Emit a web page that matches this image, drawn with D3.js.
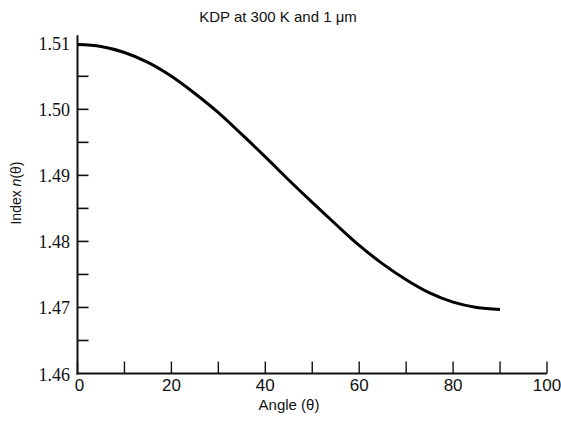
<!DOCTYPE html>
<meta charset="utf-8">
<style>
  body { margin: 0; background: #fff; }
  svg text { fill: #111; }
</style>
<body>
<svg width="561" height="425"></svg>

<script src="https://cdn.jsdelivr.net/npm/d3@7/dist/d3.min.js"></script>
<script>

// angle (deg) and refractive index
var angles  = [0, 5, 10, 15, 20, 25, 30, 35, 40, 45, 50, 55, 60, 65, 70, 75, 80, 85, 90];
var indices = [1.5098, 1.5095, 1.5086, 1.5071, 1.5050, 1.5024, 1.4995, 1.4962, 1.4928,
               1.4893, 1.4859, 1.4826, 1.4794, 1.4766, 1.4742, 1.4722, 1.4708, 1.4700, 1.4697];

var xTicks = [0, 10, 20, 30, 40, 50, 60, 70, 80, 90, 100];
var xLabels = [0, 20, 40, 60, 80, 100];
var yTicks = [1.46, 1.465, 1.47, 1.475, 1.48, 1.485, 1.49, 1.495, 1.50, 1.505, 1.51];
var yLabels = ["1.46", "1.47", "1.48", "1.49", "1.50", "1.51"];

var svg = d3.select("svg");

var x = d3.scaleLinear().domain([0, 100]).range([77.5, 547]);
var y = d3.scaleLinear().domain([1.46, 1.51]).range([373.5, 43.3]);

var data = angles.map(function(a, i) { return {angle: a, n: indices[i]}; });

// ticks (inside the frame)
svg.append("g")
    .selectAll("line.xt")
    .data(xTicks)
    .enter().append("line")
    .attr("x1", function(d) { return x(d); })
    .attr("x2", function(d) { return x(d); })
    .attr("y1", y(1.46))
    .attr("y2", y(1.46) - 12)
    .attr("stroke", "#111")
    .attr("stroke-width", 1.4);

svg.append("g")
    .selectAll("line.yt")
    .data(yTicks.slice(1, -1))
    .enter().append("line")
    .attr("x1", x(0))
    .attr("x2", x(0) + 11)
    .attr("y1", function(d) { return y(d); })
    .attr("y2", function(d) { return y(d); })
    .attr("stroke", "#111")
    .attr("stroke-width", 1.6);

// axis lines
svg.append("line")
    .attr("x1", x(0)).attr("x2", x(0))
    .attr("y1", y(1.51) - 8).attr("y2", y(1.46) + 1)
    .attr("stroke", "#111").attr("stroke-width", 2);

svg.append("line")
    .attr("x1", x(0) - 1).attr("x2", x(100))
    .attr("y1", y(1.46)).attr("y2", y(1.46))
    .attr("stroke", "#111").attr("stroke-width", 2);

// tick labels
svg.append("g")
    .selectAll("text")
    .data(xLabels)
    .enter().append("text")
    .attr("x", function(d) { return x(d) + (d === 0 ? 2 : 0); })
    .attr("y", 391)
    .attr("text-anchor", "middle")
    .style("font-family", "Liberation Sans, Arial, sans-serif")
    .style("font-size", "17px")
    .text(function(d) { return d; });

svg.append("g")
    .selectAll("text")
    .data(yLabels)
    .enter().append("text")
    .attr("x", 70)
    .attr("y", function(d) { return y(+d) + 7; })
    .attr("text-anchor", "end")
    .style("font-family", "Liberation Serif, Times New Roman, serif")
    .style("font-size", "18px")
    .text(function(d) { return d; });

// the curve
var line = d3.line().curve(d3.curveMonotoneX)
    .x(function(d) { return x(d.angle); })
    .y(function(d) { return y(d.n); });

svg.append("path")
    .datum(data)
    .attr("d", line)
    .attr("fill", "none")
    .attr("stroke", "#000")
    .attr("stroke-width", 3);

// titles
svg.append("text")
    .attr("x", 278)
    .attr("y", 22)
    .attr("text-anchor", "middle")
    .style("font-family", "Liberation Sans, Arial, sans-serif")
    .style("font-size", "15px")
    .text("KDP at 300 K and 1 \u03bcm");

svg.append("text")
    .attr("x", 289)
    .attr("y", 410)
    .attr("text-anchor", "middle")
    .style("font-family", "Liberation Sans, Arial, sans-serif")
    .style("font-size", "15px")
    .text("Angle (\u03b8)");

var ylab = svg.append("text")
    .attr("transform", "translate(21,193) rotate(-90)")
    .attr("text-anchor", "middle")
    .style("font-family", "Liberation Sans, Arial, sans-serif")
    .style("font-size", "14px");
ylab.append("tspan").text("Index ");
ylab.append("tspan").style("font-style", "italic").text("n");
ylab.append("tspan").text("(\u03b8)");

</script>
</body>
